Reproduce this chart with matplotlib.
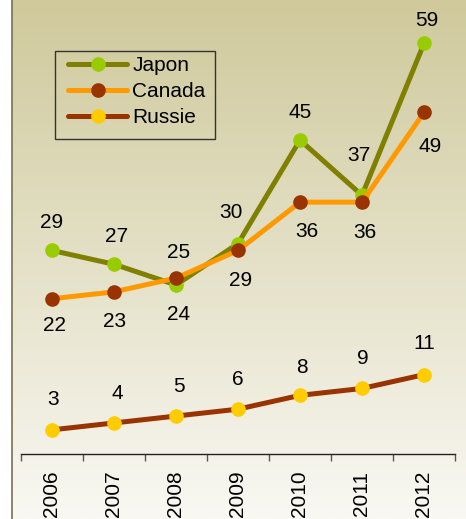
import numpy as np
import matplotlib
matplotlib.use('Agg')
import matplotlib.pyplot as plt
from matplotlib.lines import Line2D
from matplotlib.patches import Rectangle

plt.rcParams['font.family'] = ['Liberation Sans', 'DejaVu Sans']

# data
years = ['2006', '2007', '2008', '2009', '2010', '2011', '2012']
japon = [29, 27, 24, 30, 45, 37, 59]
canada = [22, 23, 25, 29, 36, 36, 49]
russie = [3, 4, 5, 6, 8, 9, 11]

W, H = 466, 519
fig = plt.figure(figsize=(W / 100, H / 100), dpi=100)
fig.patch.set_facecolor('white')

# background gradient (olive beige at top -> almost white at bottom)
bg = fig.add_axes([12 / W, 0, (W - 12) / W, 1])
top = np.array([207, 201, 155]) / 255
bot = np.array([249, 248, 243]) / 255
t = np.linspace(0, 1, 256)[:, None]
grad = top[None, :] * (1 - t) + bot[None, :] * t
bg.imshow(grad[:, None, :], aspect='auto', extent=[0, 1, 0, 1])
bg.set_axis_off()

# left border line
fig.add_artist(Line2D([11.5 / W, 11.5 / W], [0, 1], transform=fig.transFigure,
                      color='#77734f', lw=1.2))

ax = fig.add_axes([21 / W, (H - 454) / H, (455 - 21) / W, 454 / H])
ax.patch.set_alpha(0)

x = np.arange(len(years))
series = [
    ('Japon', japon, '#808000', '#99cc00'),
    ('Canada', canada, '#ff9900', '#993300'),
    ('Russie', russie, '#993300', '#ffcc00'),
]
# label offsets in pixels (dx, dy)
offsets = {
    'Japon': [(0, 28), (3, 28), (3, -30), (-7, 31), (0, 28), (-3, 40), (3, 23)],
    'Canada': [(3, -27), (1, -30), (3, 26), (3, -30), (7, -29), (3, -30), (6, -34)],
    'Russie': [(1, 30), (3, 29), (3, 30), (0, 30), (2, 28), (1, 30), (0, 31)],
}

for name, vals, lc, mc in series:
    ax.plot(x, vals, color=lc, lw=3.6, marker='o', ms=9.5, mfc=mc, mec=mc,
            solid_capstyle='round', label=name)
    for xi, v, (dx, dy) in zip(x, vals, offsets[name]):
        ax.annotate(str(v), (xi, v), xytext=(dx * 0.72, dy * 0.72),
                    textcoords='offset points', ha='center', va='center',
                    fontsize=15, color='black')

ax.set_xlim(-0.5, 6.5)
ax.set_ylim(-0.5, 65.3)
for s in ['top', 'right', 'left']:
    ax.spines[s].set_visible(False)
ax.spines['bottom'].set_color('#222222')
ax.spines['bottom'].set_linewidth(1.0)
ax.set_yticks([])
ax.set_xticks(x)
ax.set_xticklabels(years, rotation=90, fontsize=15)
ax.tick_params(axis='x', which='major', length=0, pad=12)
ax.set_xticks(np.arange(-0.5, 7, 1), minor=True)
ax.tick_params(axis='x', which='minor', length=5, width=1, color='#555555', direction='out')

# legend without its own frame, box drawn separately
leg = ax.legend(loc='upper left', bbox_to_anchor=(61 / W, 1 - 49 / H),
                bbox_transform=fig.transFigure, borderaxespad=0,
                fontsize=15, frameon=False, handlelength=2.85,
                handletextpad=0.25, labelspacing=0.34, borderpad=0.33)
fig.add_artist(Rectangle((55 / W, 1 - 139 / H), 160 / W, 88 / H,
                         transform=fig.transFigure, fill=False,
                         edgecolor='#333333', lw=1.0))

fig.savefig('out.png', dpi=100)
